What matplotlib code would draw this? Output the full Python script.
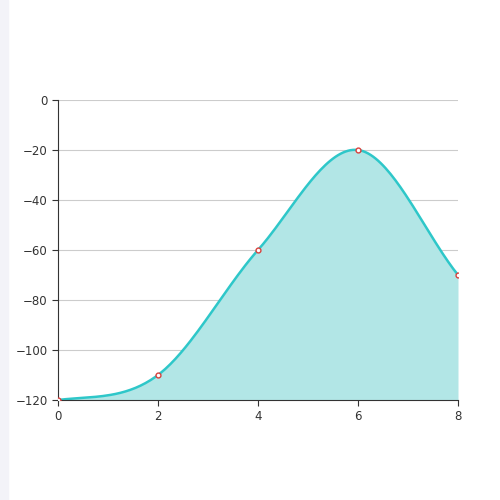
import numpy as np
import matplotlib
matplotlib.use("Agg")
import matplotlib.pyplot as plt
from matplotlib.patches import Rectangle

x_vals = [0, 2, 4, 6, 8]
y_vals = [-120, -110, -60, -20, -70]
y_ticks = [0, -20, -40, -60, -80, -100, -120]
x_ticks = [0, 2, 4, 6, 8]


def smooth(xs, ys, n=40):
    # cardinal spline through the points for a smooth rendered line
    xs = np.asarray(xs, float)
    ys = np.asarray(ys, float)
    m = np.zeros_like(ys)
    m[1:-1] = (ys[2:] - ys[:-2]) / (xs[2:] - xs[:-2])
    m[0] = (ys[1] - ys[0]) / (xs[1] - xs[0]) * 0.5
    m[-1] = (ys[-1] - ys[-2]) / (xs[-1] - xs[-2])
    px, py = [], []
    for i in range(len(xs) - 1):
        h = xs[i + 1] - xs[i]
        t = np.linspace(0, 1, n, endpoint=False)
        h00 = 2 * t**3 - 3 * t**2 + 1
        h10 = t**3 - 2 * t**2 + t
        h01 = -2 * t**3 + 3 * t**2
        h11 = t**3 - t**2
        px.extend(xs[i] + t * h)
        py.extend(h00 * ys[i] + h10 * h * m[i] + h01 * ys[i + 1] + h11 * h * m[i + 1])
    px.append(xs[-1])
    py.append(ys[-1])
    return np.array(px), np.array(py)


fig = plt.figure(figsize=(5, 5), dpi=100)
fig.patches.append(Rectangle((0, 0), 8 / 500, 1, transform=fig.transFigure,
                             color="#f3f3f8", zorder=0))
ax = fig.add_axes([0.116, 0.2, 0.8, 0.6])

sx, sy = smooth(x_vals, y_vals)
ax.fill_between(sx, sy, -120, color="#b2e6e6", lw=0)
ax.plot(sx, sy, color="#2ec7c9", lw=1.8)
ax.plot(x_vals, y_vals, "o", ms=3.5, mfc="white", mec="#d9403c", mew=1, zorder=5)

ax.set_xlim(0, 8)
ax.set_ylim(-120, 0)
ax.set_xticks(x_ticks)
ax.set_yticks(y_ticks)
ax.grid(axis="y", color="#cccccc", lw=0.8)
ax.set_axisbelow(True)
for s in ["top", "right"]:
    ax.spines[s].set_visible(False)
ax.spines["left"].set_color("#333333")
ax.spines["bottom"].set_color("#333333")
ax.tick_params(colors="#333333", labelsize=8.5, length=4)
fig.savefig("out.png", dpi=100)
